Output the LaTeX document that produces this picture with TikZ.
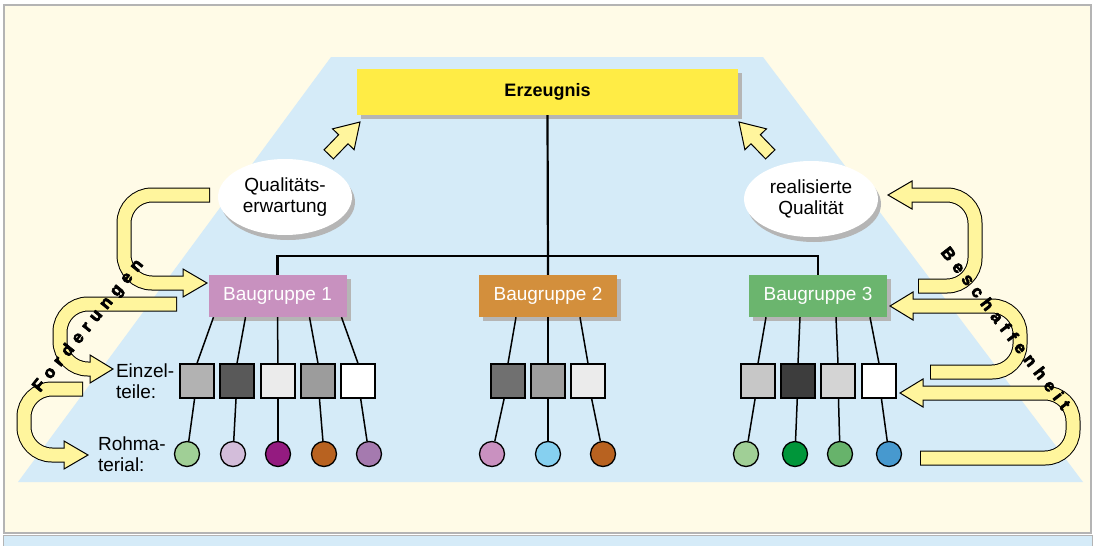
\documentclass[tikz,border=0pt]{standalone}
\usepackage{fontspec}
\setmainfont{Liberation Sans}
\usepackage{tikz}
\usetikzlibrary{shapes.geometric, shadows, positioning, calc}
\definecolor{cream}{HTML}{FFFBE7}
\definecolor{skyblue}{HTML}{D5EBF8}
\definecolor{framegray}{HTML}{B4B4B4}
\definecolor{shadowgray}{HTML}{B5B5B5}
\definecolor{erzyellow}{HTML}{FFEC45}
\definecolor{arrowyellow}{HTML}{FFF59D}
\definecolor{grpA}{HTML}{C891BF}
\definecolor{grpB}{HTML}{D38F3C}
\definecolor{grpC}{HTML}{6BB56E}
\definecolor{matgreen}{HTML}{A0CF96}
\definecolor{matlilac}{HTML}{D3BDDA}
\definecolor{matpurple}{HTML}{941B80}
\definecolor{matbrown}{HTML}{B86220}
\definecolor{matviolet}{HTML}{A57AAF}
\definecolor{matpink}{HTML}{C991C0}
\definecolor{matcyan}{HTML}{86D0F0}
\definecolor{matdkgreen}{HTML}{00963A}
\definecolor{matmdgreen}{HTML}{67B36B}
\definecolor{matblue}{HTML}{4799CF}
\newcommand{\lsp}{\kern 6pt}
\newcommand{\heavy}[1]{\special{pdf:code q 2 Tr 0.7 w 1 j}#1\special{pdf:code Q}}
\newcommand{\bigarrow}[5]{%
  \filldraw[fill=arrowyellow, draw=black, line width=1] ($#4+(0,-14)$) -- #5 -- ($#4+(0,14)$) -- cycle;
  \draw[black, line width=15, rounded corners=28] #1 -- #2 -- #3 -- #4;
  \draw[arrowyellow, line width=13, rounded corners=28, shorten <=1, shorten >=-2] #1 -- #2 -- #3 -- #4;}
\newcommand{\smallarrow}[2]{%
  \filldraw[fill=arrowyellow, draw=black, line width=1, shift={#1}, rotate=#2]
    (0,0) -- (-24,-15) -- (-24,-6.5) -- (-45,-6.5) -- (-45,6.5) -- (-24,6.5) -- (-24,15) -- cycle;}

\begin{document}
\begin{tikzpicture}[x=1pt, y=-1pt, node distance=6pt,
    every node/.style={font=\fontsize{19}{21}\selectfont},
    boxshadow/.style={drop shadow={shadow xshift=4pt, shadow yshift=-4pt, fill=shadowgray, opacity=1}},
    topbox/.style={fill=erzyellow, minimum width=381, minimum height=46, inner sep=0, boxshadow,
      font=\fontsize{18}{21}\selectfont\bfseries},
    group/.style={minimum width=138, minimum height=42, inner sep=0, text=white, boxshadow},
    part/.style={draw, line width=1.3, minimum size=34, inner sep=0},
    mat/.style={circle, draw, line width=1.3, minimum size=25, inner sep=0},
    cloud/.style={ellipse, fill=white, minimum width=134, minimum height=76, inner sep=0, align=center,
      drop shadow={shadow xshift=3pt, shadow yshift=-5pt, fill=shadowgray, opacity=1}},
    arctext/.style={inner sep=0, font=\fontsize{17}{17}\selectfont\bfseries},
    tree/.style={line width=2.2},
    link/.style={line width=1.5}]
  \useasboundingbox (0,0) rectangle (1095,546);
  \draw[framegray, fill=skyblue] (3,535) rectangle (1092,550);
  \draw[framegray, line width=1.5, fill=cream] (4,5) rectangle (1091,533);
  \fill[skyblue] (331,57) -- (763,57) -- (1083,482) -- (18,482) -- cycle;

  \node[topbox] (erz) at (547.5,92) {Erzeugnis};
  \node[group, fill=grpA] (g1) at (277.5,296) {Baugruppe 1};
  \node[group, fill=grpB] (g2) at (548,296) {Baugruppe 2};
  \node[group, fill=grpC] (g3) at (818,296) {Baugruppe 3};
  \node[cloud] (qe) at (285,197) {Qualitäts-\\erwartung};
  \node[cloud] (rq) at (811,199) {realisierte\\Qualität};

  \draw[tree] (erz.south) -- (g2.north);
  \draw[tree] (g1.north) -- ++(0,-19) -| (g3.north);

  \foreach \n/\x/\shade in {a1/197/30, a2/237/65, a3/278/8, a4/318/39, a5/358/0,
      b1/508/56, b2/548/38, b3/588/8, c1/758/22, c2/798/76, c3/838/17, c4/879/0}
    \node[part, fill=black!\shade] (\n) at (\x,381) {};
  \foreach \n/\x/\col in {r1/187/matgreen, r2/233/matlilac, r3/278/matpurple, r4/324/matbrown,
      r5/369/matviolet, s1/492/matpink, s2/548/matcyan, s3/603/matbrown,
      t1/746/matgreen, t2/795/matdkgreen, t3/840/matmdgreen, t4/889/matblue}
    \node[mat, fill=\col] (\n) at (\x,454) {};

  \foreach \g/\dx/\to in {g1/-64/a1, g1/-32/a2, g1/0/a3, g1/32/a4, g1/64/a5,
      g2/-32/b1, g2/0/b2, g2/32/b3, g3/-52/c1, g3/-18/c2, g3/18/c3, g3/52/c4}
    \draw[link] ($(\g.south)+(\dx,0)$) -- (\to.north);
  \foreach \from/\to in {a1/r1, a2/r2, a3/r3, a4/r4, a5/r5, b1/s1, b2/s2, b3/s3,
      c1/t1, c2/t2, c3/t3, c4/t4}
    \draw[link] (\from) -- (\to);

  \node[left=5pt of a1, align=left, inner sep=0] (ez) {Einzel-\\teile:};
  \node[left=8pt of r1, align=left, inner sep=0] (rm) {Rohma-\\terial:};

  \smallarrow{(360,122)}{46}
  \smallarrow{(739,122)}{134}

  \bigarrow{(210,195)}{(124,195)}{(124,283)}{(183,283)}{(207,283)}
  \bigarrow{(177,304)}{(60,304)}{(60,369)}{(90,369)}{(113,369)}
  \bigarrow{(83,389)}{(24,389)}{(24,455)}{(64,455)}{(88,455)}
  \bigarrow{(918,286)}{(975,286)}{(975,195)}{(912,195)}{(888,195)}
  \bigarrow{(930,372)}{(1020,372)}{(1020,306)}{(913,306)}{(890,306)}
  \bigarrow{(920,458)}{(1073,458)}{(1073,393)}{(923,393)}{(900,393)}

  \node[arctext, rotate=51] (ford) at (88.5,326)
    {\heavy{F\lsp o\lsp r\lsp d\lsp e\lsp r\lsp u\lsp n\lsp g\lsp e\lsp n}};
  \node[arctext, rotate=-52.4] (besch) at (1006,328)
    {\heavy{B\lsp e\lsp s\lsp c\lsp h\lsp a\lsp f\lsp f\lsp e\lsp n\lsp h\lsp e\lsp i\lsp t}};
\end{tikzpicture}
\end{document}
